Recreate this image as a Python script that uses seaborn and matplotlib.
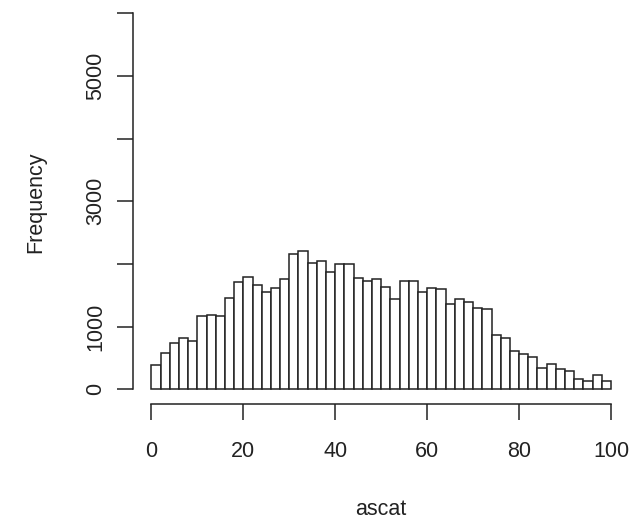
import numpy as np
import matplotlib
matplotlib.use("Agg")
import matplotlib.pyplot as plt
import seaborn as sns

# Histogram of ascat: bins of width 2 from 0 to 100
bin_edges = list(range(0, 102, 2))
counts = [389, 576, 731, 821, 773, 1168, 1184, 1163, 1461, 1707,
          1797, 1659, 1547, 1616, 1760, 2160, 2208, 2021, 2048, 1867,
          2000, 2000, 1776, 1728, 1755, 1637, 1435, 1728, 1728, 1547,
          1616, 1595, 1365, 1435, 1387, 1301, 1275, 869, 821, 613,
          571, 523, 341, 411, 320, 293, 160, 139, 229, 139]
x_ticks = [0, 20, 40, 60, 80, 100]
y_ticks = [0, 1000, 2000, 3000, 4000, 5000, 6000]
y_tick_labels = ["0", "1000", "", "3000", "", "5000", ""]
x_label = "ascat"
y_label = "Frequency"

sns.set_style("white")
plt.rcParams["font.family"] = ["Liberation Sans", "DejaVu Sans"]

FS = 15.5
INK = "#222222"

fig = plt.figure(figsize=(6.42, 5.23), dpi=100)
ax = fig.add_axes([133.0 / 642, 1 - 404.0 / 523, (629.4 - 133.0) / 642, 404.0 / 523])

centers = [(bin_edges[i] + bin_edges[i + 1]) / 2 for i in range(len(counts))]
sns.histplot(x=centers, weights=counts, bins=bin_edges, ax=ax,
             color="white", edgecolor=INK, linewidth=1.1, alpha=1)

ax.set_xlim(-4, 104)
ax.set_ylim(-234, 6209)

for s in ["top", "right"]:
    ax.spines[s].set_visible(False)
ax.spines["left"].set_bounds(0, 6000)
ax.spines["bottom"].set_bounds(0, 100)
for s in ["left", "bottom"]:
    ax.spines[s].set_color(INK)
    ax.spines[s].set_linewidth(1.1)

ax.set_xticks(x_ticks)
ax.set_xticklabels([str(t) for t in x_ticks], fontsize=FS, color=INK)
ax.set_yticks(y_ticks)
ax.set_yticklabels(y_tick_labels, fontsize=FS, rotation=90, va="center", ha="right", color=INK)
ax.tick_params(axis="both", direction="out", length=11.5, width=1.1, color=INK,
               bottom=True, left=True)
ax.tick_params(axis="x", pad=15)
ax.tick_params(axis="y", pad=7.5)

ax.set_xlabel(x_label, fontsize=FS, color=INK, labelpad=27)
ax.set_ylabel(y_label, fontsize=FS, color=INK, labelpad=28)
ax.grid(False)

fig.savefig("out.png", dpi=100)
